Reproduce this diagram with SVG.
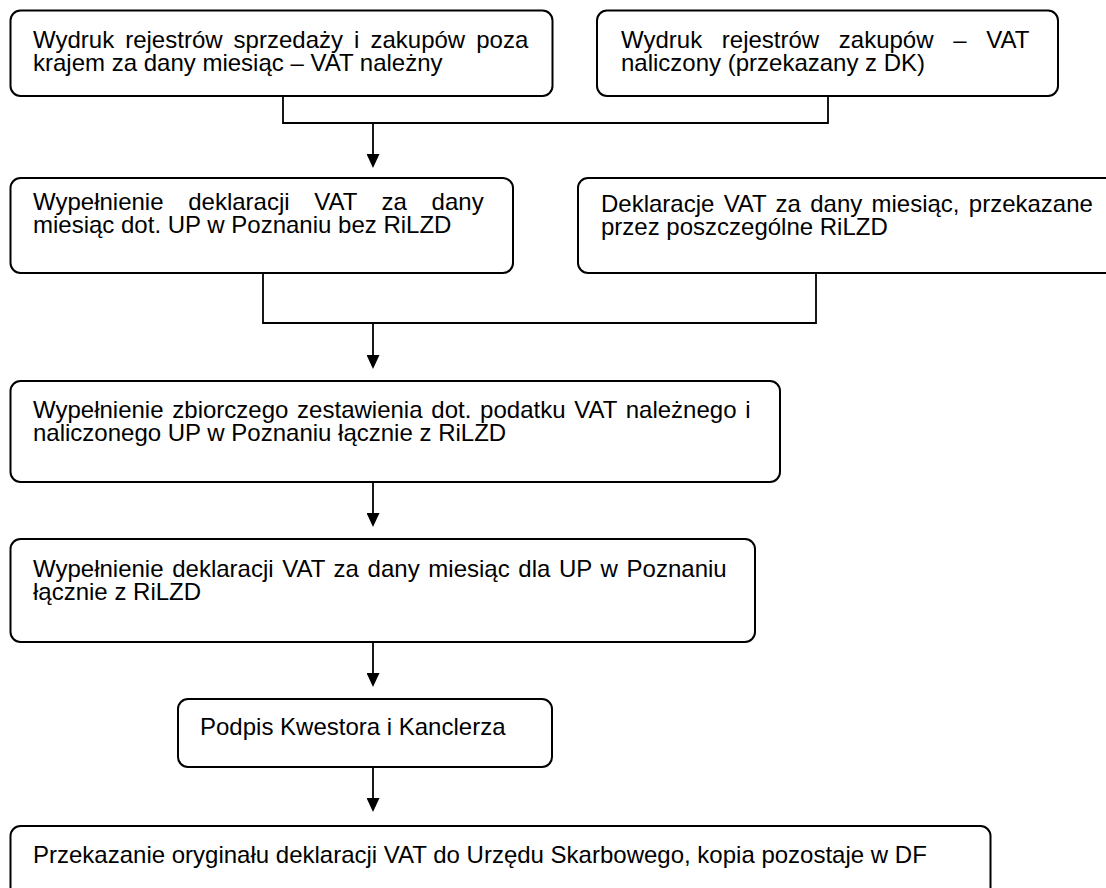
<svg xmlns="http://www.w3.org/2000/svg" width="1106" height="888" viewBox="0 0 1106 888">
<defs>
<style>
.box{fill:#fff;stroke:#000;stroke-width:2}
.t{font-family:"Liberation Sans",Arial,sans-serif;font-size:24px;fill:#000}
.c{fill:none;stroke:#000;stroke-width:1.8}
</style>
<marker id="ah" markerUnits="userSpaceOnUse" markerWidth="14" markerHeight="13" refX="4" refY="6.5" orient="auto">
<path d="M0,0 L14,6.5 L0,13 z" fill="#000"/>
</marker>
</defs>
<rect width="1106" height="888" fill="#fff"/>
<g id="connectors">
<path class="c" d="M283,96 V123 H828 V96"/>
<path class="c" d="M373,123 V158" marker-end="url(#ah)"/>
<path class="c" d="M263,273 V323 H816 V273"/>
<path class="c" d="M373,323 V359" marker-end="url(#ah)"/>
<path class="c" d="M373,482 V517" marker-end="url(#ah)"/>
<path class="c" d="M373,642 V677" marker-end="url(#ah)"/>
<path class="c" d="M373,767 V802" marker-end="url(#ah)"/>
</g>
<g id="n1">
<rect class="box" x="10.5" y="10.5" width="542" height="85.5" rx="10"/>
<text class="t"><tspan x="33" y="48" style="word-spacing:4.4px">Wydruk rejestrów sprzedaży i zakupów poza</tspan><tspan x="33" y="70.5">krajem za dany miesiąc – VAT należny</tspan></text>
</g>
<g id="n2">
<rect class="box" x="597" y="10.5" width="461" height="85.5" rx="10"/>
<text class="t"><tspan x="621" y="48" style="word-spacing:13px">Wydruk rejestrów zakupów – VAT</tspan><tspan x="621" y="70.5">naliczony (przekazany z DK)</tspan></text>
</g>
<g id="n3">
<rect class="box" x="10.5" y="178" width="502.5" height="95" rx="10"/>
<text class="t"><tspan x="33" y="210" style="word-spacing:18px">Wypełnienie deklaracji VAT za dany</tspan><tspan x="33" y="232.5">miesiąc dot. UP w Poznaniu bez RiLZD</tspan></text>
</g>
<g id="n4">
<rect class="box" x="578" y="178" width="560" height="95" rx="10"/>
<text class="t"><tspan x="601" y="212" style="word-spacing:2.6px">Deklaracje VAT za dany miesiąc, przekazane</tspan><tspan x="601" y="234.5">przez poszczególne RiLZD</tspan></text>
</g>
<g id="n5">
<rect class="box" x="10.5" y="381" width="769.5" height="101" rx="10"/>
<text class="t"><tspan x="33" y="418" style="word-spacing:2.1px">Wypełnienie zbiorczego zestawienia dot. podatku VAT należnego i</tspan><tspan x="33" y="440.5">naliczonego UP w Poznaniu łącznie z RiLZD</tspan></text>
</g>
<g id="n6">
<rect class="box" x="10.5" y="539" width="744.5" height="103" rx="10"/>
<text class="t"><tspan x="33" y="577" style="word-spacing:2px">Wypełnienie deklaracji VAT za dany miesiąc dla UP w Poznaniu</tspan><tspan x="33" y="599.5">łącznie z RiLZD</tspan></text>
</g>
<g id="n7">
<rect class="box" x="178" y="699" width="374" height="68" rx="10"/>
<text class="t" x="200" y="735">Podpis Kwestora i Kanclerza</text>
</g>
<g id="n8">
<rect class="box" x="10.5" y="826" width="980" height="90" rx="10"/>
<text class="t" x="33" y="863">Przekazanie oryginału deklaracji VAT do Urzędu Skarbowego, kopia pozostaje w DF</text>
</g>
</svg>
